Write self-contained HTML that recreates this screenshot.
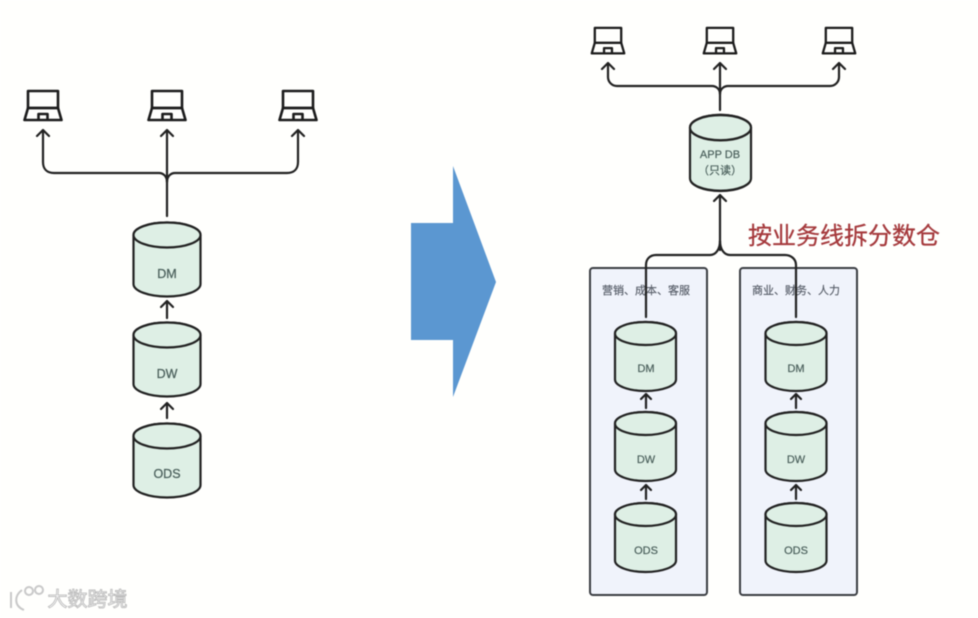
<!DOCTYPE html>
<html>
<head>
<meta charset="utf-8">
<style>
html,body{margin:0;padding:0;background:#fff;width:978px;height:618px;overflow:hidden}
svg{display:block;filter:blur(.55px)}
text{font-family:"Liberation Sans","Noto Sans CJK SC",sans-serif;text-anchor:middle}
.l{font-size:12.500px;fill:#4a5f5b;stroke:#4a5f5b;stroke-width:.25}
.s{font-size:11px;fill:#4a5f5b;stroke:#4a5f5b;stroke-width:.2}
.p{font-size:11px;fill:#555b66;stroke:#555b66;stroke-width:.15}
.c{fill:none;stroke:#222;stroke-width:2.2;stroke-linecap:round;stroke-linejoin:round}
</style>
</head>
<body>
<svg width="978" height="618" viewBox="0 0 978 618" xmlns="http://www.w3.org/2000/svg">
<defs>
<g id="lap" fill="none" stroke="#1c1c1c" stroke-width="2.6" stroke-linejoin="round">
<rect x="-15" y="1" width="30" height="17"/>
<path d="M-15 18L-18.5 30H18.5L15 18Z"/>
<path d="M-4.5 30V24H4.5V30"/>
</g>
<g id="cylL">
<path d="M-33.500 13V62A33.500 12.500 0 0 0 33.500 62V13A33.500 12.500 0 0 0 -33.500 13Z" fill="#deefe5" stroke="#222" stroke-width="2.2"/>
<ellipse cx="0" cy="13" rx="33.500" ry="12.500" fill="#deefe5" stroke="#222" stroke-width="2.2"/>
</g>
<g id="cylR">
<path d="M-30.500 11.500V57.500A30.500 11.500 0 0 0 30.500 57.500V11.500A30.500 11.500 0 0 0 -30.500 11.500Z" fill="#deefe5" stroke="#222" stroke-width="2.2"/>
<ellipse cx="0" cy="11.500" rx="30.500" ry="11.500" fill="#deefe5" stroke="#222" stroke-width="2.2"/>
</g>
</defs>

<rect width="978" height="618" fill="#fffffd"/>

<!-- LEFT -->
<use href="#lap" transform="translate(43 90)"/>
<use href="#lap" transform="translate(167 90)"/>
<use href="#lap" transform="translate(298 90)"/>

<path class="c" d="M167 216V130M161 136L167 130L173 136"/>
<path class="c" d="M167 182C167 176 163 173 159 173H54C47 173 43 169 43 162V130M37 136L43 130L49 136"/>
<path class="c" d="M167 182C167 176 171 173 175 173H287C294 173 298 169 298 162V130M292 136L298 130L304 136"/>

<use href="#cylL" transform="translate(167 222)"/>
<text class="l" x="167" y="278">DM</text>
<path class="c" d="M167 318V301M161 307L167 301L173 307"/>
<use href="#cylL" transform="translate(167 322)"/>
<text class="l" x="167" y="378">DW</text>
<path class="c" d="M167 418V403M161 409L167 403L173 409"/>
<use href="#cylL" transform="translate(167 423)"/>
<text class="l" x="167" y="478">ODS</text>

<!-- BIG ARROW -->
<path d="M411 223H453V166L496 282L453 397V340H411Z" fill="#5b97d1"/>

<!-- RIGHT panels -->
<rect x="590" y="268" width="117" height="327" rx="3" fill="#f0f3fb" stroke="#3a3d42" stroke-width="2"/>
<rect x="740" y="268" width="117" height="327" rx="3" fill="#f0f3fb" stroke="#3a3d42" stroke-width="2"/>
<text class="p" x="646" y="294">营销、成本、客服</text>
<text class="p" x="796" y="294">商业、财务、人力</text>

<!-- RIGHT top -->
<use href="#lap" transform="translate(608 27) scale(.88)"/>
<use href="#lap" transform="translate(720 27) scale(.88)"/>
<use href="#lap" transform="translate(839 27) scale(.88)"/>

<path class="c" d="M720 110V63M714 69L720 63L726 69"/>
<path class="c" d="M720 94C720 89 716 86 712 86H617C612 86 608 82 608 77V63M602 69L608 63L614 69"/>
<path class="c" d="M720 94C720 89 724 86 728 86H830C835 86 839 82 839 77V63M833 69L839 63L845 69"/>

<g transform="translate(720.500 115) scale(1 1.1)"><use href="#cylR"/></g>
<text class="s" x="720" y="158">APP DB</text>
<text class="s" x="720" y="174">（只读）</text>

<path class="c" d="M720 250V195M714 201L720 195L726 201"/>
<path class="c" d="M720 241C720 249 716 255 710 255H656C650 255 646 259 646 265V317"/>
<path class="c" d="M720 241C720 249 724 255 730 255H785C791 255 796 259 796 265V317"/>

<text x="844" y="244" style="font-size:24px;fill:#a5393c;stroke:#a5393c;stroke-width:.3">按业务线拆分数仓</text>

<!-- right stacks -->
<use href="#cylR" transform="translate(645.500 322)"/>
<text class="s" x="646" y="372">DM</text>
<path class="c" d="M646 408V394M641 399L646 394L651 399"/>
<use href="#cylR" transform="translate(645.500 412)"/>
<text class="s" x="646" y="463">DW</text>
<path class="c" d="M646 499V485M641 490L646 485L651 490"/>
<use href="#cylR" transform="translate(645.500 503)"/>
<text class="s" x="646" y="554">ODS</text>

<use href="#cylR" transform="translate(796 322)"/>
<text class="s" x="796" y="372">DM</text>
<path class="c" d="M796 408V394M791 399L796 394L801 399"/>
<use href="#cylR" transform="translate(796 412)"/>
<text class="s" x="796" y="463">DW</text>
<path class="c" d="M796 499V485M791 490L796 485L801 490"/>
<use href="#cylR" transform="translate(796 503)"/>
<text class="s" x="796" y="554">ODS</text>

<!-- watermark -->
<g fill="none" stroke="#c9c9c9" stroke-width="2">
<path d="M11 592V608M22 590C14 596 14 606 24 610"/>
<circle cx="29" cy="591" r="4"/>
<circle cx="39" cy="590" r="4"/>
</g>
<text x="87.500" y="606" style="font-size:20px;fill:#fff;stroke:#bdbdbd;stroke-width:.9">大数跨境</text>
</svg>
</body>
</html>
